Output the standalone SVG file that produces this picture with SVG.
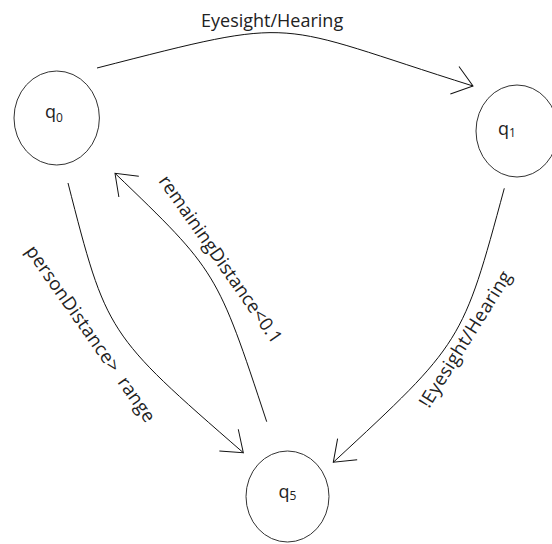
<svg xmlns="http://www.w3.org/2000/svg" width="552" height="544" viewBox="0 0 552 544">
  <style>
    .node { fill: none; stroke: #333; stroke-width: 1; }
    .lbl { font-family: "Open Sans", "Liberation Sans", sans-serif; font-size: 18px; fill: #222; }
    .rot { font-size: 18.5px; }
    .nlbl { font-family: "Open Sans", "Liberation Sans", sans-serif; font-size: 18px; fill: #222; }
    .sub { font-size: 12px; }
    .edge { fill: none; stroke: #111; stroke-width: 1; marker-end: url(#arrow); }
  </style>
  <defs>
    <marker id="arrow" markerUnits="userSpaceOnUse" viewBox="-22 -16 24 32" markerWidth="24" markerHeight="32" refX="0" refY="0" orient="auto" overflow="visible">
      <path d="M -19.2 -14.4 L 0 0 L -19.2 14.4" fill="none" stroke="#111" stroke-width="1"/>
    </marker>
  </defs>
  <rect width="552" height="544" fill="#fff"/>

  <g id="q0">
    <ellipse class="node" cx="56.7" cy="118" rx="42.7" ry="47"/>
    <text class="nlbl" x="45" y="118">q<tspan class="sub" dy="3.5">0</tspan></text>
  </g>
  <g id="q1">
    <ellipse class="node" cx="517" cy="131" rx="41" ry="46"/>
    <text class="nlbl" x="498" y="134.5">q<tspan class="sub" dy="2.5">1</tspan></text>
  </g>
  <g id="q5">
    <ellipse class="node" cx="287.5" cy="496.5" rx="41.5" ry="45.5"/>
    <text class="nlbl" x="278.5" y="498">q<tspan class="sub" dy="2">5</tspan></text>
  </g>

  <g id="connectors">
    <g id="e-q0-q1">
      <path class="edge" d="M97,68 C304,15 269,22 473,86"/>
      <text class="lbl" x="201" y="27">Eyesight/Hearing</text>
    </g>
    <g id="e-q0-q5">
      <path class="edge" d="M68,183 C106.6,333.8 106.6,333.8 243.3,452.7"/>
      <text class="lbl rot" xml:space="preserve" transform="translate(25,251) rotate(55)" x="0" y="0" textLength="211" lengthAdjust="spacing">personDistance&gt;  range</text>
    </g>
    <g id="e-q5-q0">
      <path class="edge" d="M266.7,421.7 C217.1,271.4 217.1,271.4 115,173.3"/>
      <text class="lbl rot" transform="translate(158,181) rotate(55)" x="0" y="0" textLength="200" lengthAdjust="spacing">remainingDistance&lt;0.1</text>
    </g>
    <g id="e-q1-q5">
      <path class="edge" d="M504.3,188.3 C462.6,342.6 462.6,342.6 333.3,462.3"/>
      <text class="lbl rot" transform="translate(429,409) rotate(-58)" x="0" y="0" textLength="157" lengthAdjust="spacing">!Eyesight/Hearing</text>
    </g>
  </g>
</svg>
